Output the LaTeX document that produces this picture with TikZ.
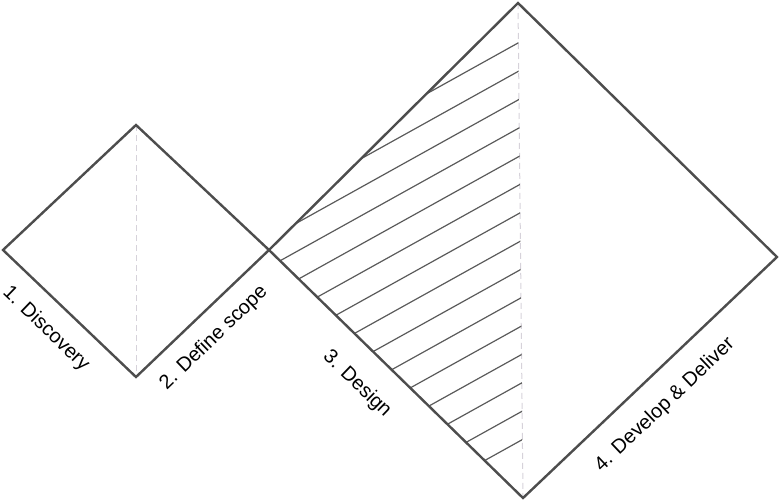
\documentclass[tikz,border=0pt]{standalone}
\usepackage{fontspec}
\setmainfont{Liberation Sans}
\usetikzlibrary{calc}
\definecolor{edgegrey}{HTML}{4D4D4D}
\definecolor{hatchgrey}{HTML}{5A5A5A}
\definecolor{axisgrey}{HTML}{D6D2DA}
\tikzset{
  outline/.style={draw=edgegrey, line width=2.4pt, line join=miter},
  hatchline/.style={draw=hatchgrey, line width=1.2pt},
  axisline/.style={draw=axisgrey, line width=1pt, dash pattern=on 6pt off 4pt},
  phase/.style={font=\fontsize{20}{24}\selectfont, inner sep=0pt, text=black}
}
\begin{document}
\begin{tikzpicture}[x=1pt,y=-1pt]
\useasboundingbox (0,0) rectangle (780,501);
\coordinate (sl) at (3,250);
\coordinate (st) at (136,125);
\coordinate (sr) at (269,250);
\coordinate (sb) at (136,377);
\coordinate (bl) at (269,250);
\coordinate (bt) at (518,3);
\coordinate (br) at (777,257);
\coordinate (bb) at (523,498);
\draw[axisline] (st) -- (sb);
\draw[axisline] (bt) -- (bb);
\begin{scope}
\clip (bl) -- (bt) -- (bb) -- cycle;
\foreach \i in {0,...,14}{
  \pgfmathsetmacro{\y}{43+28.5*\i}
  \draw[hatchline] (545,\y-15) -- (250,\y+149);
}
\end{scope}
\draw[outline] (sl) -- (st) -- (sr) -- (sb) -- cycle;
\draw[outline] (bl) -- (bt) -- (br) -- (bb) -- cycle;
\node[phase, rotate=-44] (discovery) at (46,329) {1. Discovery};
\node[phase, rotate=44] (scope) at (214,338) {2. Define scope};
\node[phase, rotate=-44] (design) at (357,384) {3. Design};
\node[phase, rotate=43.5] (deliver) at (665,405) {4. Develop \& Deliver};
\end{tikzpicture}
\end{document}
